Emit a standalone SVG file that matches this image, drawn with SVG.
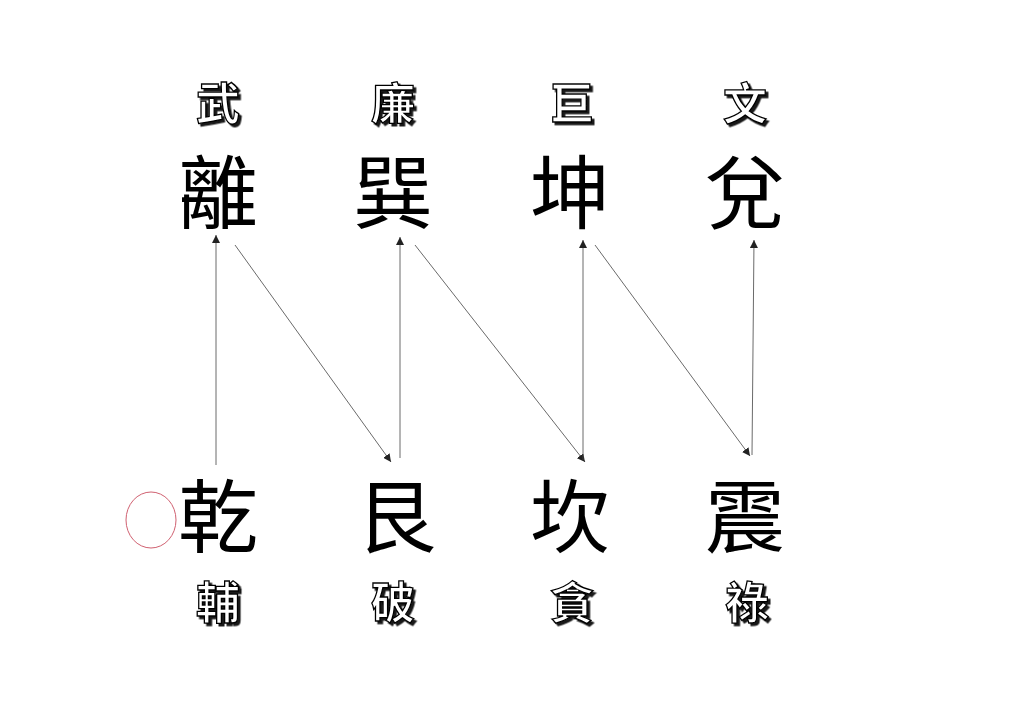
<svg xmlns="http://www.w3.org/2000/svg" width="1024" height="724" viewBox="0 0 1024 724">
<defs>
<style>
.big{font-family:"Noto Sans CJK TC","Noto Sans CJK SC",sans-serif;font-size:80px;fill:#000;text-anchor:middle}
.sm{font-family:"Noto Sans CJK TC","Noto Sans CJK SC",sans-serif;font-size:44px;font-weight:bold;text-anchor:middle;fill:#fff;stroke:#000;stroke-width:1.3;filter:url(#sh)}
.ln{stroke:#444;stroke-width:0.8;fill:none;marker-end:url(#ah)}
</style>
<filter id="sh" x="-20%" y="-20%" width="150%" height="150%"><feDropShadow dx="2.5" dy="2.5" stdDeviation="0.3" flood-color="#000" flood-opacity="0.9"/></filter>
<marker id="ah" viewBox="0 0 10 10" refX="10" refY="5" markerWidth="8" markerHeight="8" orient="auto" markerUnits="userSpaceOnUse"><path d="M0,0L10,5L0,10z" fill="#222"/></marker>
</defs>
<rect width="1024" height="724" fill="#fff"/>
<g id="connectors">
<line class="ln" x1="216" y1="465" x2="216" y2="235"/>
<line class="ln" x1="235" y1="245" x2="391" y2="462"/>
<line class="ln" x1="400" y1="458" x2="400" y2="237"/>
<line class="ln" x1="415" y1="245" x2="585" y2="462"/>
<line class="ln" x1="583" y1="460" x2="583" y2="240"/>
<line class="ln" x1="595" y1="245" x2="750" y2="456"/>
<line class="ln" x1="752" y1="455" x2="754" y2="240"/>
</g>
<g id="n-li"><text class="sm" x="218" y="120">武</text><text class="big" x="218" y="222">離</text></g>
<g id="n-xun"><text class="sm" x="393" y="120">廉</text><text class="big" x="393" y="222">巽</text></g>
<g id="n-kun"><text class="sm" x="572" y="120">巨</text><text class="big" x="570" y="222">坤</text></g>
<g id="n-dui"><text class="sm" x="745" y="120">文</text><text class="big" x="745" y="222">兌</text></g>
<g id="n-qian"><text class="big" x="218" y="546">乾</text><text class="sm" x="218" y="619">輔</text></g>
<g id="n-gen"><text class="big" x="396" y="546">艮</text><text class="sm" x="393" y="619">破</text></g>
<g id="n-kan"><text class="big" x="570" y="546">坎</text><text class="sm" x="572" y="619">貪</text></g>
<g id="n-zhen"><text class="big" x="745" y="546">震</text><text class="sm" x="747" y="619">祿</text></g>
<g id="mark"><ellipse cx="151" cy="520" rx="25" ry="28" fill="none" stroke="#d06070" stroke-width="1"/></g>
</svg>
